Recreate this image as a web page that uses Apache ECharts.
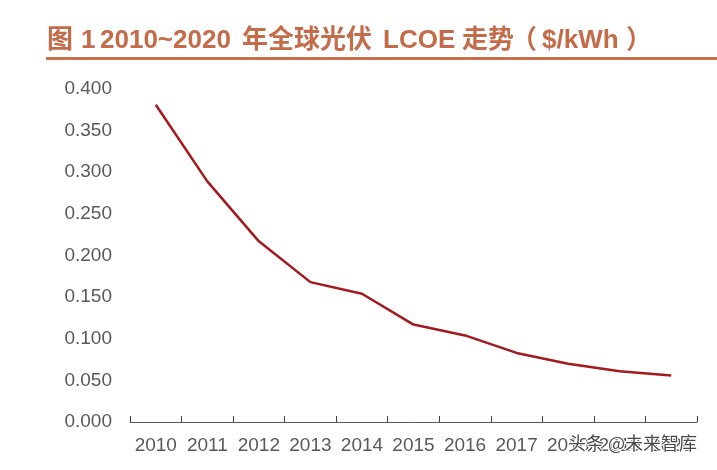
<!DOCTYPE html>
<html><head><meta charset="utf-8">
<script src="https://cdn.jsdelivr.net/npm/echarts@6/dist/echarts.min.js"></script>
<style>html,body{margin:0;padding:0;background:#fff}#c{width:717px;height:470px}</style>
</head><body><div id="c"></div>
<script>
var years = ['2010','2011','2012','2013','2014','2015','2016','2017','2018','2019','2020'];
var lcoe = [0.381, 0.289, 0.217, 0.168, 0.154, 0.117, 0.104, 0.083, 0.070, 0.061, 0.056];
var titleParts = ['图', '1', '2010~2020', '年全球光伏', 'LCOE', '走势', '（', '$/kWh', '）'];
var titleX = [47, 81, 100, 242, 383, 462, 511, 542, 626];
var watermark = '头条 @未来智库';

var titleFont = 'bold 26px "Liberation Sans", "Noto Sans CJK SC", sans-serif';
var graphics = titleParts.map(function(t, i){
  return {type:'text', x:titleX[i], y:41, style:{text:t, fill:'#C46B4A', verticalAlign:'middle', font:titleFont}};
});
graphics.push({type:'rect', shape:{x:46, y:57, width:671, height:3}, style:{fill:'#C8704E'}});
graphics.push({type:'text', x:568, y:443, z:100, style:{text:watermark, fill:'#4a4a4a', verticalAlign:'middle', font:'18px "Noto Sans CJK SC", sans-serif', stroke:'#fff', lineWidth:2}});

var chart = echarts.init(document.getElementById('c'), null, {renderer:'canvas'});
chart.setOption({
  animation:false,
  backgroundColor:'#fff',
  grid:{left:130, right:20, top:89, bottom:48, containLabel:false},
  graphic:graphics,
  xAxis:{
    type:'category', data:years, boundaryGap:true,
    axisLine:{show:true, lineStyle:{color:'#595959', width:1}},
    axisTick:{show:true, inside:true, length:6, lineStyle:{color:'#404040', width:1}},
    axisLabel:{color:'#595959', fontSize:19, fontFamily:'"Liberation Sans", Arial, sans-serif', margin:14, interval:0}
  },
  yAxis:{
    type:'value', min:0, max:0.4, interval:0.05,
    axisLine:{show:false}, axisTick:{show:false}, splitLine:{show:false},
    axisLabel:{color:'#595959', fontSize:19, fontFamily:'"Liberation Sans", Arial, sans-serif', margin:18,
      formatter:function(v){return v.toFixed(3);}}
  },
  series:[{
    type:'line', data:lcoe, symbol:'none', smooth:false,
    lineStyle:{color:'#A3191C', width:2.5}
  }]
});
</script></body></html>
